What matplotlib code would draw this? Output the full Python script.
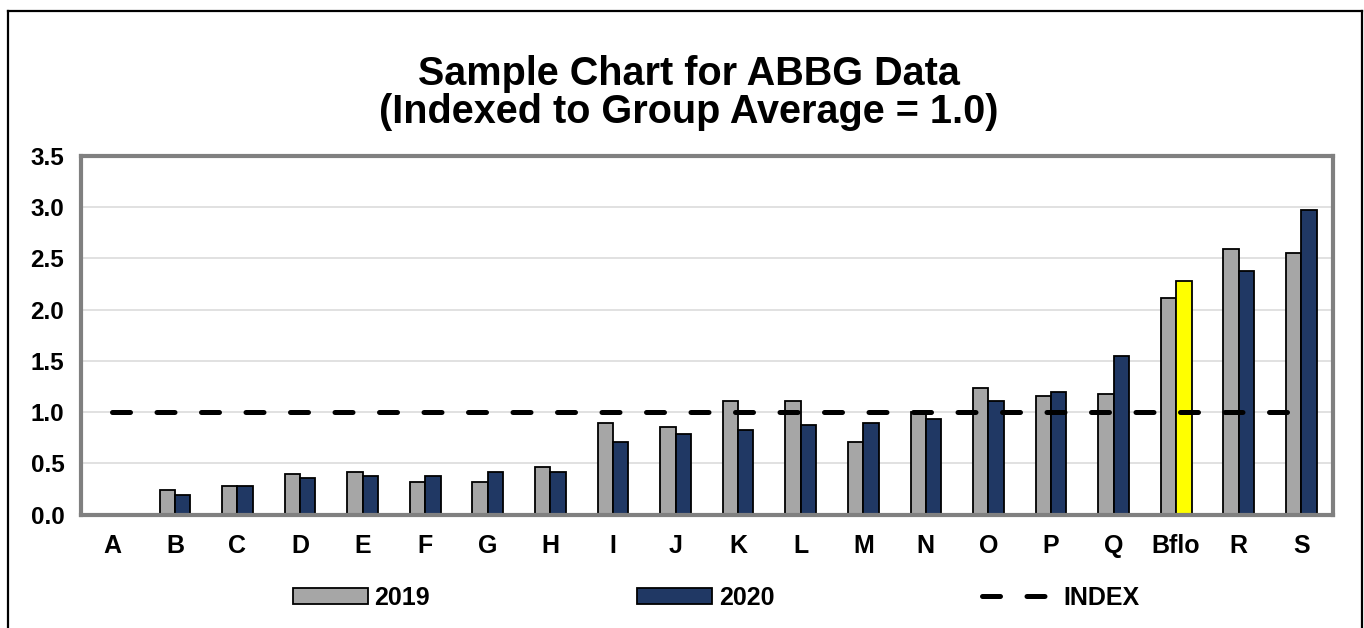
import matplotlib
matplotlib.use("Agg")
import matplotlib.pyplot as plt
from matplotlib.lines import Line2D
import numpy as np

# data
categories = ["A", "B", "C", "D", "E", "F", "G", "H", "I", "J",
              "K", "L", "M", "N", "O", "P", "Q", "Bflo", "R", "S"]
values_2019 = [0.0, 0.24, 0.28, 0.40, 0.42, 0.32, 0.32, 0.46, 0.89, 0.85,
               1.11, 1.11, 0.71, 1.0, 1.24, 1.16, 1.18, 2.11, 2.59, 2.55]
values_2020 = [0.0, 0.19, 0.28, 0.36, 0.38, 0.38, 0.42, 0.42, 0.71, 0.79,
               0.83, 0.87, 0.89, 0.93, 1.11, 1.20, 1.55, 2.28, 2.38, 2.97]
index_values = [1.0] * len(categories)
y_ticks = [0.0, 0.5, 1.0, 1.5, 2.0, 2.5, 3.0, 3.5]
highlight = "Bflo"

plt.rcParams["font.family"] = ["Liberation Sans", "DejaVu Sans"]
plt.rcParams["font.weight"] = "bold"

GRAY = "#a6a6a6"
NAVY = "#203864"
YELLOW = "#ffff00"

fig = plt.figure(figsize=(13.64, 6.28), dpi=100)
ax = fig.add_axes([0.0594, 0.1806, 0.9176, 0.571])

x = np.arange(len(categories))
w = 0.245
colors_2020 = [YELLOW if c == highlight else NAVY for c in categories]

b19 = ax.bar(x - w / 2, values_2019, w, color=GRAY, edgecolor="black", linewidth=1.3,
             label="2019", zorder=3)
b20 = ax.bar(x + w / 2, values_2020, w, color=colors_2020, edgecolor="black", linewidth=1.3,
             label="2020", zorder=3)
idx_line, = ax.plot(x, index_values, color="black", linewidth=3.6, linestyle=(0, (3.6, 5.3)),
                    dash_capstyle="round", label="INDEX", zorder=4)

ax.set_xlim(-0.5, len(categories) - 0.5)
ax.set_ylim(0, 3.5)
ax.set_yticks(y_ticks)
ax.set_yticklabels([f"{v:.1f}" for v in y_ticks])
ax.set_xticks(x)
ax.set_xticklabels(categories)
ax.tick_params(axis="y", length=0, pad=12, labelsize=17.5)
ax.tick_params(axis="x", length=0, pad=14, labelsize=18)
for lab in ax.get_xticklabels() + ax.get_yticklabels():
    lab.set_fontweight("bold")

ax.yaxis.grid(True, color="#d9d9d9", linewidth=1.1, zorder=0)
ax.set_axisbelow(True)
for s in ax.spines.values():
    s.set_color("#808080")
    s.set_linewidth(3)
    s.set_zorder(3.5)

fig.text(0.505, 0.852, "Sample Chart for ABBG Data\n(Indexed to Group Average = 1.0)",
         ha="center", va="center", fontsize=28.5, fontweight="bold", linespacing=1.0)

leg = fig.legend([b19, b20, idx_line], ["2019", "2020", "INDEX"], loc="center",
                 bbox_to_anchor=(0.525, 0.048), ncol=3, frameon=False,
                 handlelength=3.0, handleheight=0.6, handletextpad=0.25,
                 columnspacing=8.3, prop={"weight": "bold", "size": 18})
leg.legend_handles[1].set_facecolor(NAVY)

# outer border of the chart area
W, H = 1364, 628
border = dict(color="black", linewidth=1.6, transform=fig.transFigure)
fig.add_artist(Line2D([8 / W, 8 / W], [0, 1 - 11 / H], **border))
fig.add_artist(Line2D([8 / W, 1362 / W], [1 - 11 / H, 1 - 11 / H], **border))
fig.add_artist(Line2D([1362 / W, 1362 / W], [0, 1 - 11 / H], **border))

fig.savefig("out.png", dpi=100)
